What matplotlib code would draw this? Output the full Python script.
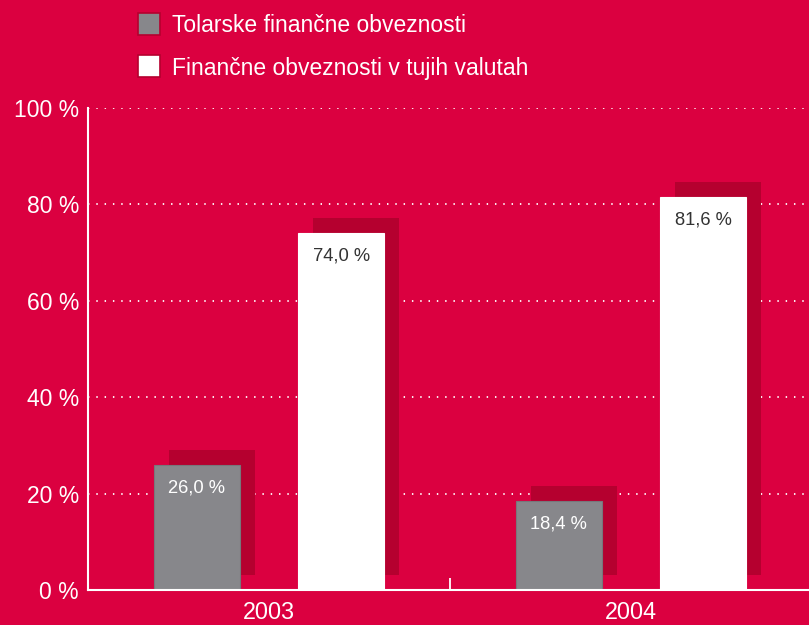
import matplotlib.pyplot as plt
import matplotlib.transforms as mtransforms
from matplotlib.patches import Rectangle

plt.rcParams['font.family'] = ['Liberation Sans', 'DejaVu Sans']

years = ['2003', '2004']
tolar = [26.0, 18.4]
foreign = [74.0, 81.6]
series_names = ['Tolarske finančne obveznosti', 'Finančne obveznosti v tujih valutah']
yticks = [0, 20, 40, 60, 80, 100]

bg = '#DB0040'
shadow = '#B5002F'
gray = '#87878B'

fig = plt.figure(figsize=(8.09, 6.25), dpi=100, facecolor=bg)
ax = fig.add_axes([88 / 809, 35 / 625, 721 / 809, 482 / 625], facecolor=bg)

x = range(len(years))
width = 0.238
off = 0.2
shift = mtransforms.ScaledTranslation(15 / 100, 15 / 100, fig.dpi_scale_trans)

for xs, vals, col, tcol in [([i - off for i in x], tolar, gray, 'white'),
                            ([i + off for i in x], foreign, 'white', '#333333')]:
    # shadow behind each bar, shifted up and right
    ax.bar(xs, vals, width, color=shadow, zorder=1.5, transform=ax.transData + shift)
    bars = ax.bar(xs, vals, width, color=col, edgecolor='#77777b' if col == gray else 'white',
                  linewidth=0.8, zorder=2)
    for b, v in zip(bars, vals):
        ax.annotate(f'{v:.1f} %'.replace('.', ','), (b.get_x() + b.get_width() / 2, v),
                    xytext=(0, -23), textcoords='offset pixels', ha='center', va='center',
                    color=tcol, fontsize=13.2, zorder=3)

ax.set_xlim(-0.5, 1.4917)
ax.set_ylim(0, 100)
ax.set_yticks(yticks, [f'{t} %' for t in yticks])
ax.set_xticks(list(x), years)
ax.set_xticks([0.5], minor=True)
ax.tick_params(axis='y', length=0, pad=6.5, colors='white', labelsize=16.5)
ax.tick_params(axis='x', which='major', length=0, pad=8, colors='white', labelsize=16.8)
ax.tick_params(axis='x', which='minor', direction='in', length=9, width=1.3, color='white')
ax.set_axisbelow(True)
ax.yaxis.grid(True, color='white', linestyle=(0, (0.8, 3.8)), linewidth=1.3, zorder=0.5)

for s in ['top', 'right']:
    ax.spines[s].set_visible(False)
for s in ['left', 'bottom']:
    ax.spines[s].set_color('white')
    ax.spines[s].set_linewidth(1.5)

# legend drawn by hand at the top
for i, (name, col) in enumerate(zip(series_names, [gray, 'white'])):
    ytop = 13 + i * 42
    fig.patches.append(Rectangle((138 / 809, 1 - (ytop + 22) / 625), 22 / 809, 22 / 625,
                                 transform=fig.transFigure, facecolor=col,
                                 edgecolor=shadow, linewidth=1.2))
    fig.text(172 / 809, 1 - (ytop + 13) / 625, name, color='white', fontsize=16.5, va='center')

fig.savefig('out.png', dpi=100, facecolor=bg)
